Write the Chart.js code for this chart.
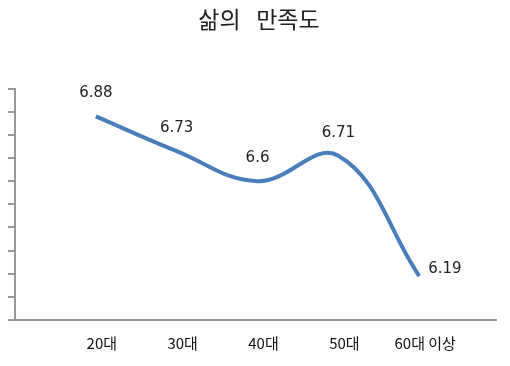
<!DOCTYPE html>
<html>
<head>
<meta charset="utf-8">
<script src="https://cdn.jsdelivr.net/npm/chart.js@4/dist/chart.umd.min.js"></script>
<style>
  body { margin: 0; background: #fff; }
  #wrap { width: 510px; height: 366px; position: relative; }
</style>
</head>
<body>
<div id="wrap"><canvas id="line-chart"></canvas></div>
<script>
// 연령대별 삶의 만족도
var ageGroups = ["20대", "30대", "40대", "50대", "60대 이상"];
var satisfaction = [6.88, 6.73, 6.6, 6.71, 6.19];
var titleText = "삶의   만족도";

var points = satisfaction.map((v, i) => ({ x: i, y: v }));

// data labels drawn above each point (last one to the right)
var valueLabels = {
  id: 'valueLabels',
  afterDatasetsDraw(chart) {
    var ctx = chart.ctx;
    var meta = chart.getDatasetMeta(0);
    ctx.save();
    ctx.font = '15px "DejaVu Sans", Verdana, sans-serif';
    ctx.fillStyle = '#222';
    ctx.textBaseline = 'middle';
    meta.data.forEach(function (pt, i) {
      var last = i == meta.data.length - 1;
      ctx.textAlign = last ? 'left' : 'center';
      var x = last ? pt.x + 9 : pt.x;
      var y = last ? pt.y - 7 : pt.y - 23;
      ctx.fillText(String(satisfaction[i]), x, y);
    });
    ctx.restore();
  }
};

new Chart(document.getElementById("line-chart"), {
  type: 'line',
  data: {
    datasets: [{
      label: "삶의 만족도",
      data: points,
      borderColor: "#4a7ebb",
      borderWidth: 4,
      pointRadius: 0,
      tension: 0.4,
      fill: false
    }]
  },
  options: {
    responsive: true,
    maintainAspectRatio: false,
    animation: false,
    layout: { padding: { left: 8, right: 0, top: 0, bottom: 0 } },
    plugins: {
      legend: { display: false },
      tooltip: { enabled: false },
      title: {
        display: true,
        text: titleText,
        color: '#222',
        font: { family: '"Noto Sans CJK KR"', size: 23, weight: 'normal' },
        padding: { top: 5, bottom: 56 }
      }
    },
    scales: {
      x: {
        type: 'linear',
        min: -1,
        max: 4.95,
        border: { color: '#999', width: 2 },
        grid: { display: false, drawTicks: false },
        ticks: {
          stepSize: 1,
          padding: 14,
          labelOffset: 6,
          color: '#111',
          font: { family: '"Noto Sans CJK KR"', size: 15 },
          callback: function (v) { return ageGroups[v] || ''; }
        }
      },
      y: {
        min: 6.0,
        max: 7.0,
        border: { color: '#999', width: 2 },
        grid: { drawOnChartArea: false, drawTicks: true, tickLength: 7, color: '#999', lineWidth: 2 },
        ticks: { stepSize: 0.1, display: false }
      }
    }
  },
  plugins: [valueLabels]
});
</script>
</body>
</html>
